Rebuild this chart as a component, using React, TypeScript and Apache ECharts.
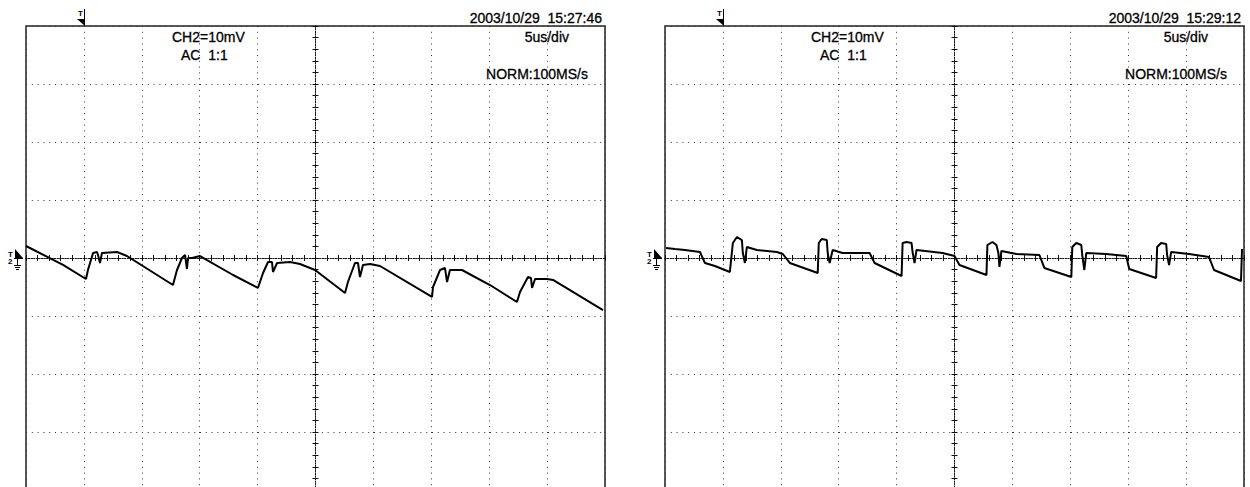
import React, { useEffect, useRef } from "react";
import * as echarts from "echarts";

// Screen: 10 divisions of 5 us (time relative to screen centre), 8 divisions of 10 mV
const TIME_MIN = -25;
const TIME_MAX = 25;
const TIME_DIV = 5;
const VOLT_MIN = -40;
const VOLT_MAX = 40;
const VOLT_DIV = 10;

// Left capture (15:27:46)
const leftTime = [
  -25.0, -21.8, -19.82, -19.65, -19.21, -18.87, -18.78, -18.61, -18.44, -17.14,
  -16.28, -12.31, -11.96, -11.53, -11.27, -11.1, -11.01, -10.66, -9.97, -7.12,
  -4.97, -4.53, -4.1, -3.76, -3.67, -3.32, -2.2, -1.34, -0.04, 2.55,
  2.8, 3.41, 3.67, 3.84, 4.1, 4.71, 5.57, 10.06, 10.15, 10.75,
  11.18, 11.36, 11.61, 12.05, 12.65, 15.07, 17.4, 17.66, 18.35, 18.61,
  18.7, 18.96, 19.99, 20.51, 24.83,
];
const leftVolt = [
  2.07, -1.2, -3.62, -2.07, 0.86, 1.03, 0.52, -0.86, 0.86, 1.03,
  0.34, -4.66, -2.07, 0, 0.52, -1.9, 0, 0, 0.34, -2.93,
  -5.17, -2.59, -0.69, -0.69, -2.41, -0.86, -0.69, -1.03, -2.07, -6.03,
  -4.14, -0.86, -0.86, -3.28, -1.21, -1.03, -1.38, -6.72, -5.0, -2.07,
  -1.72, -4.14, -2.07, -2.07, -2.07, -4.66, -7.59, -5.86, -3.28, -3.45,
  -5.17, -3.62, -3.62, -3.79, -8.97,
];

// Right capture (15:29:12)
const rightTime = [
  -24.91, -24.14, -23.28, -21.98, -21.55, -20.69, -19.4, -19.14, -18.79, -18.36,
  -18.28, -18.1, -17.93, -17.07, -15.34, -14.83, -14.22, -11.81, -11.72, -11.47,
  -11.03, -10.95, -10.78, -10.52, -9.66, -7.33, -6.9, -4.57, -4.48, -4.14,
  -3.71, -3.62, -3.45, -3.28, -1.03, 0.0, 0.43, 2.76, 2.84, 3.28,
  3.62, 3.79, 3.88, 4.05, 5.34, 7.33, 7.76, 10.09, 10.17, 10.52,
  10.95, 11.03, 11.21, 11.38, 13.1, 14.83, 15.09, 17.41, 17.5, 17.84,
  18.28, 18.36, 18.53, 18.71, 20.26, 21.98, 22.41, 24.74, 24.83,
];
const rightVolt = [
  1.72, 1.55, 1.38, 1.03, -0.86, -1.38, -2.41, 2.59, 3.62, 3.1,
  0.86, -0.86, 1.9, 1.38, 1.03, 0.69, -0.86, -2.59, 2.59, 3.28,
  3.1, 0.86, -0.86, 1.38, 0.86, 0.86, -0.86, -3.1, 2.59, 2.76,
  2.59, 1.03, -0.86, 1.38, 0.86, 0.34, -1.21, -2.93, 2.24, 2.76,
  2.24, 0.86, -1.55, 1.21, 0.69, 0.52, -1.72, -3.28, 1.9, 2.59,
  2.24, 0.52, -2.07, 0.86, 0.69, 0.34, -1.9, -3.45, 1.9, 2.59,
  2.41, 0.52, -1.21, 1.03, 0.69, 0.17, -2.07, -3.97, 1.55,
];

const leftLabels = {
  date: "2003/10/29  15:27:46",
  ch: "CH2=10mV",
  coupling: "AC  1:1",
  timebase: "5us/div",
  mode: "NORM:100MS/s",
};
const rightLabels = {
  date: "2003/10/29  15:29:12",
  ch: "CH2=10mV",
  coupling: "AC  1:1",
  timebase: "5us/div",
  mode: "NORM:100MS/s",
};

const INK = "#111";
const DOT = [1, 4.8];
const DENSE = [1, 1.6];
const FONT = '14px "Liberation Sans", Arial, sans-serif';

function pairs(t: number[], v: number[]) {
  return t.map((x, i) => [x, v[i]]);
}

function xAxes(gi: number, yIdx: number) {
  const base = {
    type: "value",
    gridIndex: gi,
    min: TIME_MIN,
    max: TIME_MAX,
    interval: TIME_DIV,
    axisLabel: { show: false },
    axisTick: { show: true, length: 3, lineStyle: { color: INK, width: 1 } },
    minorTick: { show: true, splitNumber: 5, length: 3, lineStyle: { color: INK, width: 1 } },
  };
  return [
    {
      ...base,
      position: "bottom",
      axisLine: { show: true, onZero: true, onZeroAxisIndex: yIdx, lineStyle: { color: INK, width: 1, type: DENSE } },
      splitLine: { show: true, lineStyle: { color: "#333", width: 1, type: DOT } },
    },
    {
      ...base,
      position: "top",
      axisLine: { show: true, onZero: true, onZeroAxisIndex: yIdx, lineStyle: { color: INK, width: 1, type: DENSE } },
      splitLine: { show: false },
    },
  ];
}

function yAxes(gi: number, xIdx: number) {
  const base = {
    type: "value",
    gridIndex: gi,
    min: VOLT_MIN,
    max: VOLT_MAX,
    interval: VOLT_DIV,
    axisLabel: { show: false },
    axisTick: { show: true, length: 3, lineStyle: { color: INK, width: 1 } },
    minorTick: { show: true, splitNumber: 5, length: 3, lineStyle: { color: INK, width: 1 } },
  };
  return [
    {
      ...base,
      position: "left",
      axisLine: { show: true, onZero: true, onZeroAxisIndex: xIdx, lineStyle: { color: INK, width: 1, type: DENSE } },
      splitLine: { show: true, lineStyle: { color: "#333", width: 1, type: DOT } },
    },
    {
      ...base,
      position: "right",
      axisLine: { show: true, onZero: true, onZeroAxisIndex: xIdx, lineStyle: { color: INK, width: 1, type: DENSE } },
      splitLine: { show: false },
    },
  ];
}

function txt(x: number, y: number, text: string, align: string) {
  return {
    type: "text",
    x,
    y,
    z: 10,
    style: {
      text,
      fill: "#000",
      stroke: "#000",
      lineWidth: 0.3,
      font: FONT,
      align,
      verticalAlign: "middle",
      textAlign: align,
      textVerticalAlign: "middle",
    },
  };
}

function panelGraphics(ox: number, labels: typeof leftLabels) {
  const s = { stroke: "#000", lineWidth: 1 };
  return [
    txt(ox + 602, 18, labels.date, "right"),
    txt(ox + 172, 37, labels.ch, "left"),
    txt(ox + 181, 55, labels.coupling, "left"),
    txt(ox + 569, 37, labels.timebase, "right"),
    txt(ox + 588, 74, labels.mode, "right"),
    // trigger position marker (top)
    {
      type: "text",
      x: ox + 78,
      y: 9,
      style: { text: "T", fill: "#000", font: "bold 8px sans-serif" },
    },
    { type: "line", shape: { x1: ox + 84.5, y1: 9, x2: ox + 84.5, y2: 25 }, style: s },
    { type: "polygon", shape: { points: [[ox + 77, 19], [ox + 85, 19], [ox + 85, 26]] }, style: { fill: "#000" } },
    // trigger level / ground marker (left)
    {
      type: "text",
      x: ox + 8,
      y: 250,
      style: { text: "T", fill: "#000", font: "bold 8px sans-serif" },
    },
    {
      type: "text",
      x: ox + 8,
      y: 257,
      style: { text: "2", fill: "#000", font: "bold 8px sans-serif" },
    },
    { type: "polygon", shape: { points: [[ox + 15, 249], [ox + 23, 258], [ox + 15, 258]] }, style: { fill: "#000" } },
    { type: "line", shape: { x1: ox + 14, y1: 258.5, x2: ox + 23, y2: 258.5 }, style: s },
    { type: "line", shape: { x1: ox + 17.5, y1: 258, x2: ox + 17.5, y2: 265 }, style: s },
    { type: "line", shape: { x1: ox + 14, y1: 265.5, x2: ox + 21, y2: 265.5 }, style: s },
    { type: "line", shape: { x1: ox + 15, y1: 267.5, x2: ox + 20, y2: 267.5 }, style: s },
    { type: "line", shape: { x1: ox + 16, y1: 269.5, x2: ox + 19, y2: 269.5 }, style: s },
  ];
}

export default function App() {
  const ref = useRef<HTMLDivElement>(null);
  useEffect(() => {
    document.body.style.margin = "0";
    if (!ref.current) return;
    const chart = echarts.init(ref.current, undefined, { renderer: "svg" });
    const gridBase = {
      show: true,
      borderColor: "#222",
      borderWidth: 1.5,
      backgroundColor: "transparent",
      outerBoundsMode: "none",
      containLabel: false,
      top: 26,
      height: 464,
      width: 579,
    };
    chart.setOption({
      animation: false,
      backgroundColor: "#fff",
      grid: [
        { ...gridBase, left: 26 },
        { ...gridBase, left: 665 },
      ],
      xAxis: [...xAxes(0, 0), ...xAxes(1, 2)],
      yAxis: [...yAxes(0, 0), ...yAxes(1, 2)],
      series: [
        {
          type: "line",
          xAxisIndex: 0,
          yAxisIndex: 0,
          data: pairs(leftTime, leftVolt),
          showSymbol: false,
          symbol: "none",
          lineStyle: { color: "#000", width: 2 },
          z: 5,
        },
        {
          type: "line",
          xAxisIndex: 2,
          yAxisIndex: 2,
          data: pairs(rightTime, rightVolt),
          showSymbol: false,
          symbol: "none",
          lineStyle: { color: "#000", width: 2 },
          z: 5,
        },
      ],
      graphic: [...panelGraphics(0, leftLabels), ...panelGraphics(639, rightLabels)],
    });
    return () => chart.dispose();
  }, []);
  return <div ref={ref} style={{ width: 1250, height: 487 }} />;
}
